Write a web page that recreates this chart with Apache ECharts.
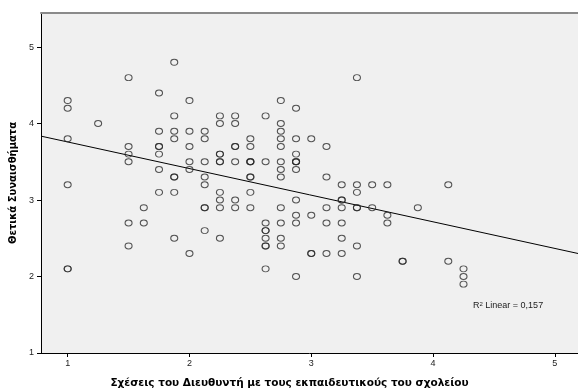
<!DOCTYPE html>
<html>
<head>
<meta charset="utf-8">
<script src="https://cdn.jsdelivr.net/npm/echarts@6/dist/echarts.min.js"></script>
<style>
html,body{margin:0;padding:0;background:#fff;}
#c{width:578px;height:390px;}
</style>
</head>
<body>
<div id="c"></div>
<script>
// x values (Σχέσεις του Διευθυντή ...) grouped by column, with the y values of each column
const xColumns = [1, 1.25, 1.5, 1.625, 1.75, 1.875, 2, 2.125, 2.25, 2.375, 2.5, 2.625, 2.75, 2.875, 3, 3.125, 3.25, 3.375, 3.5, 3.625, 3.75, 3.875, 4.125, 4.25];
const yByColumn = [
  [4.3, 4.2, 3.8, 3.2, 2.1, 2.1],
  [4.0],
  [4.6, 3.7, 3.6, 3.5, 2.7, 2.4],
  [2.9, 2.7],
  [4.4, 3.9, 3.7, 3.7, 3.6, 3.4, 3.1],
  [4.8, 4.1, 3.9, 3.8, 3.3, 3.3, 3.1, 2.5],
  [4.3, 3.9, 3.7, 3.5, 3.4, 2.3],
  [3.9, 3.8, 3.5, 3.3, 3.2, 2.9, 2.9, 2.6],
  [4.1, 4.0, 3.6, 3.6, 3.5, 3.5, 3.1, 3.0, 2.9, 2.5],
  [4.1, 4.0, 3.7, 3.7, 3.5, 3.0, 2.9],
  [3.8, 3.7, 3.5, 3.5, 3.5, 3.3, 3.3, 3.1, 2.9],
  [4.1, 3.5, 2.7, 2.6, 2.6, 2.5, 2.4, 2.4, 2.1],
  [4.3, 4.0, 3.9, 3.8, 3.7, 3.5, 3.4, 3.3, 2.9, 2.7, 2.5, 2.4],
  [4.2, 3.8, 3.6, 3.5, 3.5, 3.5, 3.4, 3.0, 2.8, 2.7, 2.0],
  [3.8, 2.8, 2.3, 2.3],
  [3.7, 3.3, 2.9, 2.7, 2.3],
  [3.2, 3.0, 3.0, 2.9, 2.7, 2.5, 2.3],
  [4.6, 3.2, 3.1, 2.9, 2.9, 2.4, 2.0],
  [3.2, 2.9],
  [3.2, 2.8, 2.7],
  [2.2, 2.2],
  [2.9],
  [3.2, 2.2],
  [2.1, 2.0, 1.9]
];
// linear fit
const fitIntercept = 4.107;
const fitSlope = -0.348;
const fitLabel = "0,157";
const xTicks = [1, 2, 3, 4, 5];
const yTicks = [1, 2, 3, 4, 5];
const xTitle = "Σχέσεις του Διευθυντή με τους εκπαιδευτικούς του σχολείου";
const yTitle = "Θετικά Συναισθήματα";

const X_MIN = 0.781, X_MAX = 5.19, Y_MIN = 1, Y_MAX = 5.445;

const points = [];
xColumns.forEach((x, i) => yByColumn[i].forEach(y => points.push([x, y])));
const fitLine = [[X_MIN, fitIntercept + fitSlope * X_MIN], [X_MAX, fitIntercept + fitSlope * X_MAX]];

const chart = echarts.init(document.getElementById('c'), null, {renderer: 'canvas'});
const tickFont = {fontFamily: 'Liberation Sans, Arial, sans-serif', fontSize: 9, color: '#222'};
chart.setOption({
  animation: false,
  backgroundColor: '#ffffff',
  grid: {left: 41, top: 13, right: 0, bottom: 37, show: true, backgroundColor: '#f0f0f0', borderWidth: 0,
         containLabel: false, outerBoundsMode: 'none'},
  xAxis: [{
    type: 'value', min: X_MIN, max: X_MAX,
    axisLine: {show: true, onZero: false, lineStyle: {color: '#000', width: 1}},
    axisTick: {show: true, length: 4, customValues: xTicks, lineStyle: {color: '#000'}},
    axisLabel: Object.assign({customValues: xTicks, margin: 6}, tickFont),
    splitLine: {show: false},
    name: xTitle, nameLocation: 'middle', nameGap: 25,
    nameTextStyle: {fontFamily: 'DejaVu Sans, Verdana, sans-serif', fontWeight: 'bold', fontSize: 10.5, color: '#000', padding: [0, 40, 0, 0]}
  }, {
    type: 'value', position: 'top', min: X_MIN, max: X_MAX,
    axisLine: {show: true, onZero: false, lineStyle: {color: '#8a8a8a', width: 2}},
    axisTick: {show: false}, axisLabel: {show: false}, splitLine: {show: false}
  }],
  yAxis: {
    type: 'value', min: Y_MIN, max: Y_MAX,
    axisLine: {show: true, onZero: false, lineStyle: {color: '#000', width: 1}},
    axisTick: {show: true, length: 4, customValues: yTicks, lineStyle: {color: '#000'}},
    axisLabel: Object.assign({customValues: yTicks, margin: 7}, tickFont),
    splitLine: {show: false},
    name: yTitle, nameLocation: 'middle', nameGap: 22, nameRotate: 90,
    nameTextStyle: {fontFamily: 'DejaVu Sans, Verdana, sans-serif', fontWeight: 'bold', fontSize: 10, color: '#000'}
  },
  series: [{
    type: 'scatter', data: points, xAxisIndex: 0,
    symbol: 'circle', symbolSize: [7, 6],
    itemStyle: {color: 'rgba(0,0,0,0)', borderColor: '#2a2a2a', borderWidth: 1},
    emphasis: {disabled: true}
  }, {
    type: 'line', data: fitLine, xAxisIndex: 0,
    showSymbol: false, symbol: 'none',
    lineStyle: {color: '#000', width: 1}, z: 1
  }],
  graphic: [{
    type: 'text', left: 473, top: 301,
    style: {
      text: '{r|R}{s|2}{r| Linear = ' + fitLabel + '}',
      rich: {
        r: {fontFamily: 'Liberation Sans, Arial, sans-serif', fontSize: 9, fill: '#222'},
        s: {fontFamily: 'Liberation Sans, Arial, sans-serif', fontSize: 6, fill: '#222', verticalAlign: 'top', padding: [0, 0, 4, 0]}
      }
    }
  }]
});
</script>
</body>
</html>
